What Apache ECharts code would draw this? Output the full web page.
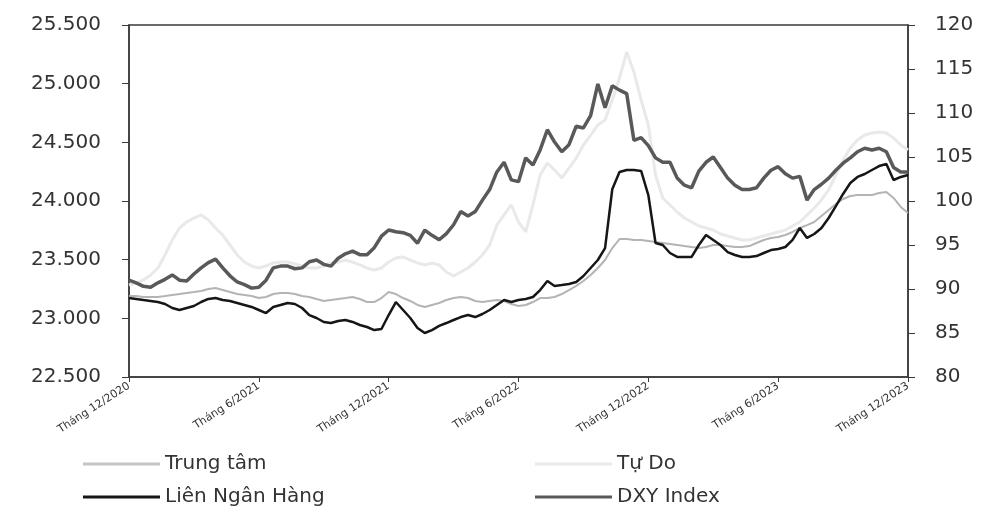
<!DOCTYPE html>
<html>
<head>
<meta charset="utf-8">
<script src="https://cdn.jsdelivr.net/npm/echarts@6/dist/echarts.min.js"></script>
<style>
  html, body { margin: 0; padding: 0; background: #ffffff; }
  #chart { width: 984px; height: 506px; }
</style>
</head>
<body>
<div id="chart"></div>
<script>
// USD/VND exchange rates (left axis) and the DXY index (right axis),
// Dec 2020 - Dec 2023, three readings per month.
const tickLabels = ['Tháng 12/2020', 'Tháng 6/2021', 'Tháng 12/2021', 'Tháng 6/2022',
                    'Tháng 12/2022', 'Tháng 6/2023', 'Tháng 12/2023'];
const seriesNames = ['Trung tâm', 'Tự Do', 'Liên Ngân Hàng', 'DXY Index'];

const trungTam = [
  23190, 23190, 23182, 23182, 23182, 23190, 23199, 23207, 23216, 23224,
  23233, 23250, 23258, 23241, 23224, 23207, 23199, 23190, 23173, 23182,
  23207, 23216, 23216, 23207, 23190, 23182, 23165, 23148, 23156, 23165,
  23173, 23182, 23165, 23139, 23139, 23173, 23224, 23207, 23173, 23148,
  23114, 23097, 23114, 23131, 23156, 23173, 23182, 23173, 23148, 23139,
  23148, 23156, 23148, 23122, 23105, 23114, 23139, 23173, 23173, 23182,
  23207, 23241, 23276, 23318, 23369, 23429, 23497, 23599, 23676, 23676,
  23668, 23668, 23659, 23650, 23642, 23634, 23625, 23616, 23608, 23599,
  23608, 23625, 23625, 23616, 23608, 23608, 23616, 23642, 23668, 23685,
  23693, 23710, 23736, 23770, 23795, 23821, 23872, 23923, 23974, 24017,
  24043, 24051, 24051, 24051, 24068, 24077, 24026, 23949, 23898
];

const tuDo = [
  23284, 23301, 23327, 23369, 23429, 23540, 23668, 23770, 23821, 23855,
  23881, 23838, 23770, 23710, 23625, 23540, 23480, 23446, 23429, 23446,
  23472, 23480, 23480, 23463, 23446, 23429, 23429, 23446, 23472, 23480,
  23497, 23480, 23455, 23429, 23412, 23429, 23480, 23514, 23523, 23497,
  23472, 23455, 23472, 23455, 23395, 23361, 23395, 23429, 23480, 23540,
  23625, 23795, 23881, 23966, 23821, 23736, 23966, 24222, 24324, 24264,
  24196, 24281, 24366, 24477, 24562, 24648, 24690, 24861, 25048, 25270,
  25099, 24861, 24648, 24222, 24026, 23966, 23906, 23855, 23821, 23787,
  23770, 23753, 23719, 23702, 23685, 23668, 23668, 23685, 23702, 23719,
  23736, 23753, 23787, 23821, 23881, 23940, 24009, 24094, 24222, 24349,
  24452, 24520, 24562, 24580, 24588, 24580, 24537, 24477, 24435
];

const lienNganHang = [
  23173, 23165, 23156, 23148, 23139, 23122, 23088, 23071, 23088, 23105,
  23139, 23165, 23173, 23156, 23148, 23131, 23114, 23097, 23071, 23045,
  23097, 23114, 23131, 23122, 23088, 23028, 23003, 22969, 22960, 22977,
  22986, 22969, 22943, 22926, 22900, 22909, 23028, 23139, 23071, 23003,
  22918, 22875, 22900, 22935, 22960, 22986, 23011, 23028, 23011, 23037,
  23071, 23114, 23156, 23139, 23156, 23165, 23182, 23241, 23318, 23276,
  23284, 23293, 23310, 23361, 23429, 23497, 23599, 24100, 24247, 24264,
  24264, 24256, 24051, 23642, 23625, 23557, 23523, 23523, 23523, 23625,
  23710, 23668, 23625, 23565, 23540, 23523, 23523, 23531, 23557, 23582,
  23591, 23608, 23668, 23770, 23685, 23719, 23770, 23855, 23957, 24060,
  24153, 24205, 24230, 24264, 24298, 24315, 24179, 24205, 24222
];

const dxy = [
  91.0, 90.7, 90.3, 90.2, 90.7, 91.1, 91.6, 91.0, 90.9, 91.7,
  92.4, 93.0, 93.4, 92.4, 91.5, 90.8, 90.5, 90.1, 90.2, 91.0,
  92.4, 92.6, 92.6, 92.3, 92.4, 93.1, 93.3, 92.8, 92.6, 93.5,
  94.0, 94.3, 93.9, 93.9, 94.7, 96.0, 96.7, 96.5, 96.4, 96.1,
  95.2, 96.7, 96.1, 95.6, 96.3, 97.3, 98.8, 98.3, 98.8, 100.1,
  101.3, 103.3, 104.4, 102.4, 102.2, 104.9, 104.1, 105.8, 108.1, 106.7,
  105.6, 106.4, 108.5, 108.3, 109.7, 113.3, 110.6, 113.1, 112.6, 112.2,
  106.9, 107.2, 106.3, 104.9, 104.4, 104.4, 102.6, 101.8, 101.5, 103.4,
  104.4, 105.0, 103.8, 102.6, 101.8, 101.3, 101.3, 101.5, 102.6, 103.5,
  103.9, 103.1, 102.6, 102.8, 100.1, 101.3, 101.9, 102.6, 103.5, 104.3,
  104.9, 105.6, 106.0, 105.8, 106.0, 105.6, 103.8, 103.3, 103.3
];

const STEPS_PER_LABEL = 18; // 6 months x 3 readings
const periods = trungTam.map((_, i) => 'P' + i);

const textColor = '#333333';
const axisColor = '#3a3a3a';
const font = 'DejaVu Sans';

const colors = {
  trungTam: '#b4b4b4',
  tuDo: '#e9e9e9',
  lienNganHang: '#161616',
  dxy: '#595959'
};

function thousands(v) {
  return String(Math.round(v)).replace(/\B(?=(\d{3})+(?!\d))/g, '.');
}

const chart = echarts.init(document.getElementById('chart'), null, { renderer: 'canvas' });

// one legend block per item so the two columns line up
function legendItem(name, left, top) {
  return {
    data: [name],
    left: left,
    top: top,
    icon: 'rect',
    itemWidth: 77,
    itemHeight: 3,
    itemGap: 8,
    selectedMode: false,
    textStyle: { fontSize: 20, color: textColor, fontFamily: font }
  };
}

chart.setOption({
  animation: false,
  backgroundColor: '#ffffff',
  grid: {
    left: 129, right: 76, top: 25, bottom: 129,
    show: true, borderColor: axisColor, borderWidth: 1.5
  },
  legend: [
    legendItem(seriesNames[0], 78, 449),
    legendItem(seriesNames[1], 530, 449),
    legendItem(seriesNames[2], 78, 482),
    legendItem(seriesNames[3], 530, 482)
  ],
  xAxis: {
    type: 'category',
    data: periods,
    boundaryGap: false,
    axisLine: { lineStyle: { color: axisColor, width: 1.5 } },
    axisTick: { interval: STEPS_PER_LABEL - 1, length: 5, lineStyle: { color: axisColor } },
    axisLabel: {
      interval: STEPS_PER_LABEL - 1,
      rotate: 33,
      margin: 8,
      fontSize: 11,
      color: textColor,
      fontFamily: font,
      formatter: (v, i) => tickLabels[Math.round(i / STEPS_PER_LABEL)]
    },
    splitLine: { show: false }
  },
  yAxis: [
    {
      type: 'value', position: 'left',
      min: 22500, max: 25500, interval: 500,
      axisLine: { show: true, lineStyle: { color: axisColor, width: 1.5 } },
      axisTick: { show: true, length: 7, lineStyle: { color: axisColor } },
      axisLabel: { margin: 28, fontSize: 20, color: textColor, fontFamily: font, formatter: thousands },
      splitLine: { show: false }
    },
    {
      type: 'value', position: 'right',
      min: 80, max: 120, interval: 5,
      axisLine: { show: true, lineStyle: { color: axisColor, width: 1.5 } },
      axisTick: { show: true, length: 7, lineStyle: { color: axisColor } },
      axisLabel: { margin: 27, fontSize: 20, color: textColor, fontFamily: font },
      splitLine: { show: false }
    }
  ],
  series: [
    {
      name: seriesNames[1], type: 'line', yAxisIndex: 0, data: tuDo,
      symbol: 'none', lineStyle: { color: colors.tuDo, width: 3 }, itemStyle: { color: colors.tuDo }
    },
    {
      name: seriesNames[0], type: 'line', yAxisIndex: 0, data: trungTam,
      symbol: 'none', lineStyle: { color: colors.trungTam, width: 2 }, itemStyle: { color: '#c4c4c4' }
    },
    {
      name: seriesNames[3], type: 'line', yAxisIndex: 1, data: dxy,
      symbol: 'none', lineStyle: { color: colors.dxy, width: 3.5 }, itemStyle: { color: colors.dxy }
    },
    {
      name: seriesNames[2], type: 'line', yAxisIndex: 0, data: lienNganHang,
      symbol: 'none', lineStyle: { color: colors.lienNganHang, width: 2.5 }, itemStyle: { color: colors.lienNganHang }
    }
  ]
});
</script>
</body>
</html>
